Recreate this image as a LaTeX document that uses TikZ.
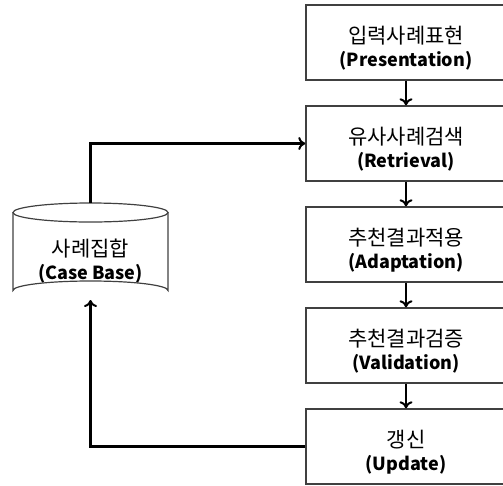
\documentclass[tikz,border=0pt]{standalone}
\usepackage{fontspec}
\setmainfont{Noto Sans CJK KR}
\usetikzlibrary{positioning,arrows.meta}

\begin{document}
\begin{tikzpicture}[
    x=1pt, y=-1pt,
    twoline/.style={align=center, text height=50pt, text depth=3pt, font=\fontsize{21}{23}\selectfont},
    stage/.style={twoline, rectangle, draw=black!75, line width=1.4pt, minimum width=200pt, minimum height=75pt},
    arrow/.style={-{To[length=7pt,width=13pt,line width=2pt]}, line width=2.2pt},
]
\useasboundingbox (0,0) rectangle (503,485);

% Right side: process steps
\node[stage] (pres) at (406,42.5) {입력사례표현\\{\fontsize{18}{23}\selectfont\bfseries (Presentation)}};
\node[stage] (retr) at (406,143.5) {유사사례검색\\{\fontsize{18}{23}\selectfont\bfseries (Retrieval)}};
\node[stage] (adap) at (406,244.5) {추천결과적용\\{\fontsize{18}{23}\selectfont\bfseries (Adaptation)}};
\node[stage] (vali) at (406,345.5) {추천결과검증\\{\fontsize{18}{23}\selectfont\bfseries (Validation)}};
\node[stage] (upd) at (406,446.5) {갱신\\{\fontsize{18}{23}\selectfont\bfseries (Update)}};

\draw[arrow] (pres) -- (retr);
\draw[arrow] (retr) -- (adap);
\draw[arrow] (adap) -- (vali);
\draw[arrow] (vali) -- (upd);

% Left side: case base cylinder
\node[twoline] (cb) at (90.5,256) {사례집합\\{\fontsize{18}{23}\selectfont\bfseries (Case Base)}};
\coordinate (cbtop) at (90.5,203);
\coordinate (cbbot) at (90.5,300);
\draw[black!75, line width=1.2pt] (90.5,212.5) ellipse (77.5 and 9.5);
\draw[black!75, line width=1.2pt] (13,212.5) -- (13,290.5) arc (180:360:77.5 and 9.5) -- (168,212.5);

% Connections
\draw[arrow] (cbtop) |- (retr.west);
\draw[arrow] (upd.west) -| (cbbot);

\end{tikzpicture}
\end{document}
